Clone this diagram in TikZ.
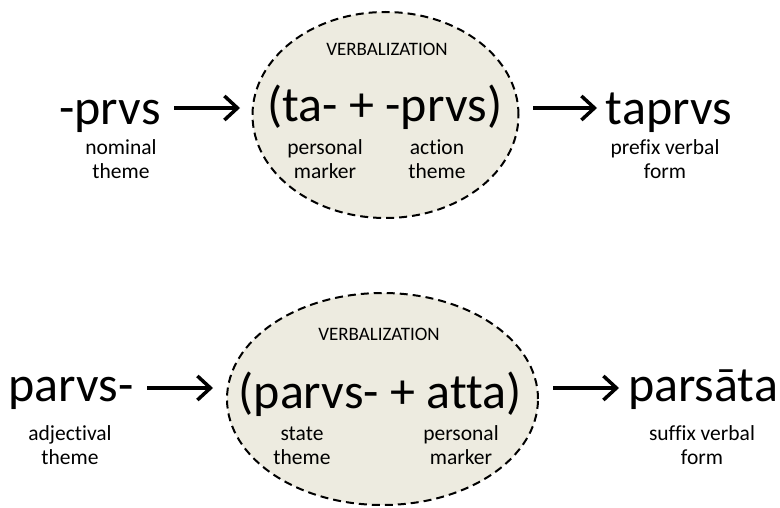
\documentclass[tikz,border=0pt]{standalone}
\usepackage{fontspec}
\setmainfont{Carlito}[Ligatures={NoCommon}]
\usetikzlibrary{shapes.geometric,arrows.meta}
\definecolor{bubblefill}{RGB}{237,235,224}
\newcommand{\twoline}[2]{\begin{tabular}[t]{@{}c@{}}#1\\#2\end{tabular}}
\begin{document}
\begin{tikzpicture}[x=1pt,y=-1pt,
  big/.style={anchor=base,inner sep=0pt,font=\fontsize{50}{60}\selectfont},
  small/.style={anchor=base,inner sep=0pt,font=\fontsize{21.5}{24}\selectfont},
  headline/.style={anchor=base,inner sep=0pt,font=\fontsize{19}{22}\selectfont},
  bubble/.style={ellipse,draw,fill=bubblefill,line width=2pt,dash pattern=on 8pt off 5pt,inner sep=0pt},
  arr/.style={line width=3.2pt,-{Straight Barb[length=13pt,width=24pt,line width=3.5pt]}}
]
\useasboundingbox (0,0) rectangle (780,508);

% ---------- top row ----------
\node[bubble,minimum width=266pt,minimum height=206pt] (e1) at (385.5,115) {};
\node[headline] (v1) at (387,56) {VERBALIZATION};
\node[big] (src1) at (110,125) {-prvs};
\node[small] (l1) at (121,155) {\twoline{nominal}{theme}};
\node[big] (mid1) at (385,122) {(ta- + -prvs)};
\node[small] (l2) at (325,155) {\twoline{personal}{marker}};
\node[small] (l3) at (437,155) {\twoline{action}{theme}};
\node[big] (res1) at (669,125) {taprvs};
\node[small] (l4) at (665,155) {\twoline{prefix verbal}{form}};
\coordinate (a1s) at (174,108);
\coordinate (a1e) at (240,108);
\coordinate (a2s) at (533,108);
\coordinate (a2e) at (597,108);
\draw[arr] (a1s) -- (a1e);
\draw[arr] (a2s) -- (a2e);

% ---------- bottom row ----------
\node[bubble,minimum width=311pt,minimum height=212pt] (e2) at (382.5,399) {};
\node[headline] (v2) at (379,340) {VERBALIZATION};
\node[big] (src2) at (71,401) {parvs-};
\node[small] (l5) at (70,440) {\twoline{adjectival}{theme}};
\node[big] (mid2) at (380,408) {(parvs- + atta)};
\node[small] (l6) at (302,440) {\twoline{state}{theme}};
\node[small] (l7) at (461,440) {\twoline{personal}{marker}};
\node[big] (res2) at (703,401) {parsāta};
\node[small] (l8) at (702,440) {\twoline{suffix verbal}{form}};
\coordinate (b1s) at (147,388);
\coordinate (b1e) at (213,388);
\coordinate (b2s) at (553,388);
\coordinate (b2e) at (619,388);
\draw[arr] (b1s) -- (b1e);
\draw[arr] (b2s) -- (b2e);
\end{tikzpicture}
\end{document}
